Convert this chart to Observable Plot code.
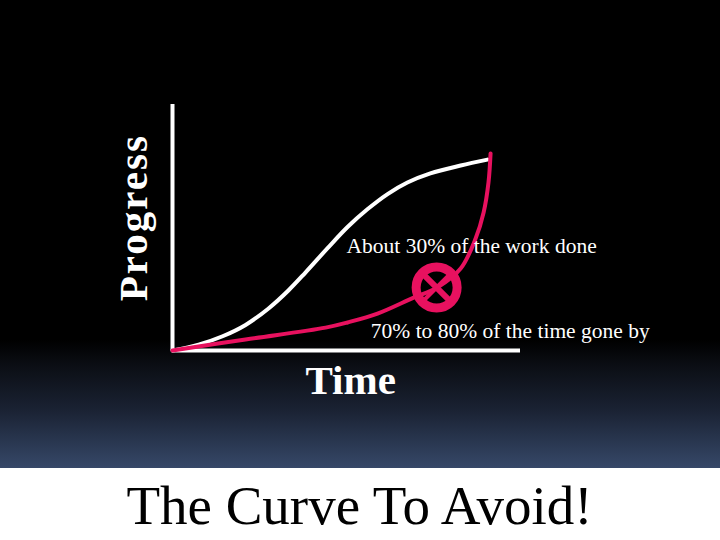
<!DOCTYPE html>
<html><head><meta charset="utf-8">
<script src="https://cdn.jsdelivr.net/npm/d3@7"></script>
<script src="https://cdn.jsdelivr.net/npm/@observablehq/plot@0.6"></script>
<style>
html,body{margin:0;padding:0;background:#fff;width:720px;height:540px;overflow:hidden}
#stage{width:720px;height:468px;background:linear-gradient(to bottom,#000 0,#000 340px,#0b0e14 365px,#1a2233 410px,#364868 468px)}
#stage svg{display:block;background:transparent}
#title{width:720px;height:72px;line-height:76px;text-align:center;font-family:"Liberation Serif",serif;font-size:55px;color:#000;white-space:nowrap;text-indent:-1px}
</style></head><body>
<div id="stage"></div>
<div id="title">The Curve To Avoid!</div>
<script>
const expectedTime = [0, 7.5, 14.4, 21, 27.6, 33.3, 38.2, 44.5, 50.3, 56, 61.8, 67.5, 74.1, 82.8, 90.5];
const expectedProgress = [0, 2.4, 5.8, 10.4, 17.1, 24.4, 31.7, 41.5, 50.2, 57.4, 63.6, 68.3, 72, 75.2, 77.6];
const actualTime = [0, 21, 44, 50.3, 58.9, 69.3, 76.1, 82.8, 87.1, 89.4, 90.8, 91.4];
const actualProgress = [0, 4.5, 9.3, 11.4, 15.0, 21.5, 25.6, 33.3, 45.5, 56.1, 68.3, 80.1];
const marker = {x: 75.9, y: 25.6};
const crossA = [{x1: 71.6, y1: 31.7, x2: 80.2, y2: 19.5}];
const crossB = [{x1: 71.6, y1: 19.5, x2: 80.2, y2: 31.7}];
const labels = [
  {x: 50, y: 42.3, text: "About 30% of the work done"},
  {x: 57, y: 7.9, text: "70% to 80% of the time gone by"}
];
const axisLabels = [
  {x: 51.2, y: -12.2, text: "Time", rotate: 0},
  {x: -11.2, y: 54, text: "Progress", rotate: -90}
];
const pts = (xs, ys) => xs.map((x, i) => ({x, y: ys[i]}));
const pink = "#e8115f";
const chart = Plot.plot({
  width: 720, height: 468,
  marginLeft: 172, marginRight: 200, marginTop: 104, marginBottom: 118,
  x: {domain: [0, 100], axis: null},
  y: {domain: [0, 100], axis: null},
  style: {background: "transparent"},
  marks: [
    Plot.ruleX([0], {y1: 0, y2: 100, stroke: "#fff", strokeWidth: 4}),
    Plot.ruleY([0], {x1: 0, x2: 100, stroke: "#fff", strokeWidth: 4}),
    Plot.line(pts(expectedTime, expectedProgress), {x: "x", y: "y", stroke: "#fff", strokeWidth: 4, curve: "catmull-rom"}),
    Plot.line(pts(actualTime, actualProgress), {x: "x", y: "y", stroke: pink, strokeWidth: 4, curve: "catmull-rom"}),
    Plot.dot([marker], {x: "x", y: "y", r: 20.5, stroke: pink, strokeWidth: 9}),
    Plot.link(crossA, {x1: "x1", y1: "y1", x2: "x2", y2: "y2", stroke: pink, strokeWidth: 6}),
    Plot.link(crossB, {x1: "x1", y1: "y1", x2: "x2", y2: "y2", stroke: pink, strokeWidth: 4}),
    Plot.text(labels, {x: "x", y: "y", text: "text", fill: "#fff", fontSize: 21.5, fontFamily: "Liberation Serif", textAnchor: "start"}),
    Plot.text(axisLabels, {x: "x", y: "y", text: "text", rotate: "rotate", fill: "#fff", fontSize: 41, fontWeight: "bold", fontFamily: "Liberation Serif"})
  ]
});
d3.select(chart).selectAll("text").filter(function(){return this.textContent==="Progress";}).style("letter-spacing","2px");
document.getElementById("stage").append(chart);
</script>
</body></html>
